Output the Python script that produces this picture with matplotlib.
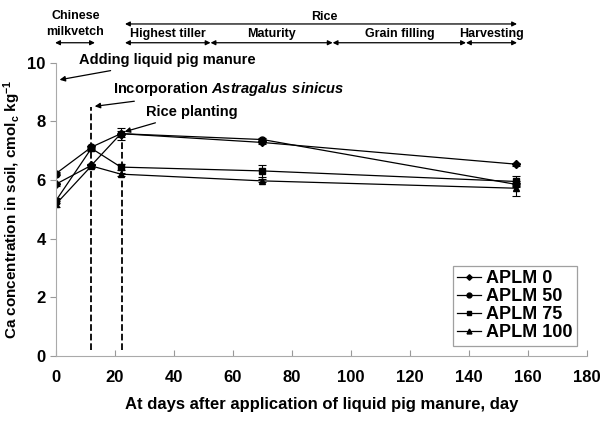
import matplotlib
matplotlib.use("Agg")
import matplotlib.pyplot as plt

plt.rcParams['font.family'] = ['Liberation Sans', 'DejaVu Sans']
plt.rcParams['font.weight'] = 'bold'
plt.rcParams['mathtext.fontset'] = 'custom'
plt.rcParams['mathtext.bf'] = 'Liberation Sans:bold'
plt.rcParams['mathtext.rm'] = 'Liberation Sans:bold'
plt.rcParams['mathtext.bfit'] = 'Liberation Sans:bold:italic'
plt.rcParams['mathtext.default'] = 'bf'

# sampling days
days = [0, 12, 22, 70, 156]

# Ca concentration (cmol_c/kg) per treatment
aplm0 = [5.86, 6.50, 7.58, 7.28, 6.54]
aplm50 = [6.22, 7.12, 7.58, 7.38, 5.85]
aplm75 = [5.30, 7.08, 6.44, 6.31, 5.95]
aplm100 = [5.18, 6.48, 6.20, 5.97, 5.72]

err0 = [0.05, 0.05, 0.10, 0.05, 0.05]
err50 = [0.05, 0.05, 0.20, 0.05, 0.05]
err75 = [0.10, 0.08, 0.10, 0.20, 0.20]
err100 = [0.10, 0.08, 0.05, 0.05, 0.25]

labels = ['APLM 0', 'APLM 50', 'APLM 75', 'APLM 100']
markers = ['D', 'o', 's', '^']
msizes = [4, 5, 5, 5]

# growth stages
stage_names = ['Highest tiller', 'Maturity', 'Grain filling', 'Harvesting']
stage_bounds = [23.4, 52.4, 93.8, 139, 156.3]

fig = plt.figure(figsize=(6.04, 4.21), dpi=100)
ax = fig.add_axes([0.0927, 0.1544, 0.879, 0.6967])

series = [aplm0, aplm50, aplm75, aplm100]
errs = [err0, err50, err75, err100]
handles = []
for vals, e, lab, m, ms in zip(series, errs, labels, markers, msizes):
    ax.errorbar(days, vals, yerr=e, color='black', fmt='none',
                elinewidth=0.8, capsize=3, capthick=0.8)
    h, = ax.plot(days, vals, color='black', marker=m, markersize=ms,
                 linewidth=0.9, label=lab)
    handles.append(h)

# event lines
ax.plot([12, 12], [0.2, 8.5], color='black', linestyle='--', linewidth=1.3)
ax.plot([22.5, 22.5], [0.2, 7.5], color='black', linestyle='--', linewidth=1.3)

ax.set_xlim(0, 180)
ax.set_ylim(0, 10)
ax.set_xticks(range(0, 181, 20))
ax.set_yticks(range(0, 11, 2))
ax.tick_params(axis='x', direction='in', length=4, labelsize=12, pad=10, color='#999999')
ax.tick_params(axis='y', direction='out', length=4, labelsize=12, color='#999999')
for lab in ax.get_xticklabels() + ax.get_yticklabels():
    lab.set_fontweight('bold')
for s in ['top', 'right']:
    ax.spines[s].set_visible(False)
for s in ['left', 'bottom']:
    ax.spines[s].set_color('#aaaaaa')

ax.set_xlabel('At days after application of liquid pig manure, day', fontsize=12,
              fontweight='bold', labelpad=9)
ax.set_ylabel(r'Ca concentration in soil, cmol$_\mathbf{c}$ kg$^\mathbf{-1}$', fontsize=11,
              fontweight='bold', labelpad=3)

arrow = dict(arrowstyle='-|>', color='black', lw=0.9, mutation_scale=8)
ax.annotate('Adding liquid pig manure', xy=(0.3, 9.4), xytext=(7.9, 10.08),
            fontsize=10.5, fontweight='bold', va='center', arrowprops=arrow,
            annotation_clip=False)
ax.annotate(r'Incorporation $\mathbfit{Astragalus\ sinicus}$', xy=(12.2, 8.5), xytext=(19.3, 9.1),
            fontsize=10.5, fontweight='bold', va='center', arrowprops=arrow)
ax.annotate('Rice planting', xy=(22.4, 7.62), xytext=(30.5, 8.31),
            fontsize=10.5, fontweight='bold', va='center', arrowprops=arrow)

# header: crop periods
darrow = dict(arrowstyle='<|-|>', color='black', lw=0.9, mutation_scale=7,
              shrinkA=0, shrinkB=0)
ax.text(6.6, 11.59, 'Chinese', ha='center', va='center', fontsize=9, fontweight='bold')
ax.text(6.6, 11.05, 'milkvetch', ha='center', va='center', fontsize=9, fontweight='bold')
ax.annotate('', xy=(-0.3, 10.68), xytext=(13.2, 10.68), arrowprops=darrow,
            annotation_clip=False)
ax.text(91, 11.55, 'Rice', ha='center', va='center', fontsize=9, fontweight='bold')
ax.annotate('', xy=(stage_bounds[0], 11.32), xytext=(stage_bounds[-1], 11.32),
            arrowprops=darrow, annotation_clip=False)
for i, name in enumerate(stage_names):
    a, b = stage_bounds[i], stage_bounds[i + 1]
    ax.annotate('', xy=(a, 10.68), xytext=(b, 10.68), arrowprops=darrow,
                annotation_clip=False)
    ax.text((a + b) / 2, 10.97, name, ha='center', va='center', fontsize=9,
            fontweight='bold')

leg = ax.legend(handles=handles, loc='lower right', bbox_to_anchor=(0.9985, 0.005),
                frameon=True, fancybox=False, handlelength=1.3, handletextpad=0.3,
                borderpad=0.25, labelspacing=0.05, markerscale=0.7,
                prop={'weight': 'bold', 'size': 13})
leg.get_frame().set_edgecolor('#888888')
leg.get_frame().set_linewidth(0.9)

fig.savefig('out.png', dpi=100)
